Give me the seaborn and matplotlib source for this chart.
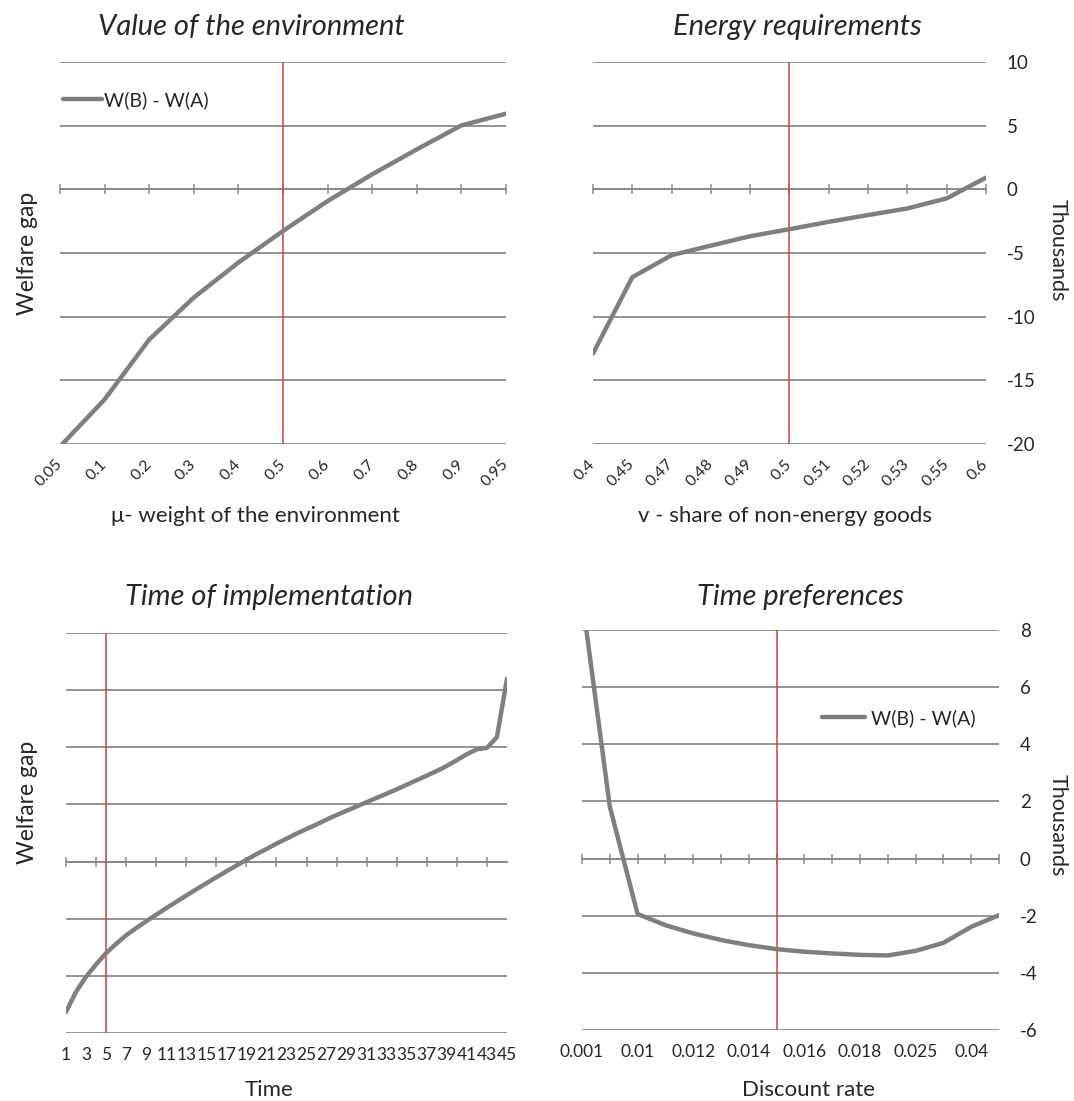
import numpy as np
import matplotlib
matplotlib.use("Agg")
import matplotlib.pyplot as plt
import seaborn as sns

# data (welfare gap, thousands)
mu_labels = ["0.05", "0.1", "0.2", "0.3", "0.4", "0.5", "0.6", "0.7", "0.8", "0.9", "0.95"]
mu_gap = [-20.2, -16.5, -11.8, -8.5, -5.75, -3.27, -0.92, 1.18, 3.14, 5.02, 5.94]
mu_base = 5

v_labels = ["0.4", "0.45", "0.47", "0.48", "0.49", "0.5", "0.51", "0.52", "0.53", "0.55", "0.6"]
v_gap = [-12.9, -6.9, -5.17, -4.42, -3.68, -3.13, -2.55, -2.02, -1.5, -0.71, 0.92]
v_base = 5

time_labels = [str(t) for t in range(1, 46, 2)]
time_gap = [-5.26, -4.56, -4.03, -3.6, -3.2, -2.88, -2.58, -2.33, -2.09, -1.86,
            -1.63, -1.41, -1.19, -0.97, -0.76, -0.55, -0.34, -0.14, 0.06, 0.26,
            0.44, 0.63, 0.80, 0.98, 1.14, 1.30, 1.47, 1.63, 1.78, 1.93,
            2.08, 2.23, 2.38, 2.53, 2.69, 2.85, 3.01, 3.17, 3.35, 3.55,
            3.76, 3.93, 3.98, 4.36, 6.40]
time_base = 4

dr_labels = ["0.001", "0.01", "0.012", "0.014", "0.016", "0.018", "0.025", "0.04"]
dr_gap = [9.15, 1.82, -1.94, -2.33, -2.62, -2.85, -3.03, -3.17,
          -3.26, -3.32, -3.37, -3.39, -3.23, -2.95, -2.39, -1.98]
dr_base = 7

sns.set_style("white")
plt.rcParams["font.family"] = ["Lato", "DejaVu Sans"]
plt.rcParams["axes.unicode_minus"] = False

LINE = "#7f7f7f"
GRID = "#8a8a8a"
RED = "#C8423F"
W, H = 1074, 1101

fig = plt.figure(figsize=(W / 100, H / 100), dpi=100)


def rect(x0, y0, x1, y1):
    return [x0 / W, 1 - y1 / H, (x1 - x0) / W, (y1 - y0) / H]


def panel(box, values, labels, label_every, base, ylim, ystep, mark_every,
          rot=0, legend=None, right=False):
    ax = fig.add_axes(rect(*box))
    pos = np.arange(len(values))
    sns.lineplot(x=pos, y=values, ax=ax, color=LINE, linewidth=3.2,
                 label=legend, legend=False, zorder=3)
    ax.axvline(base, color=RED, linewidth=1.1, zorder=2)
    ax.set_xlim(0, len(values) - 1)
    ax.set_ylim(*ylim)
    ax.set_yticks(np.arange(ylim[0], ylim[1] + ystep, ystep))
    ax.yaxis.grid(True, color=GRID, linewidth=1.3)
    ax.xaxis.grid(False)
    for s in ax.spines.values():
        s.set_visible(False)

    ax.set_xticks(pos[::label_every])
    if rot:
        ax.set_xticklabels(labels, rotation=rot, ha="right", va="center",
                           rotation_mode="anchor")
        ax.tick_params(axis="x", length=0, pad=13, labelsize=11.5)
    else:
        ax.set_xticklabels(labels)
        ax.tick_params(axis="x", length=0, pad=10, labelsize=12.5)

    if right:
        ax.yaxis.tick_right()
        ax.tick_params(axis="y", length=0, pad=15, labelsize=13.5,
                       labelright=True, labelleft=False)
    else:
        ax.tick_params(axis="y", length=0, labelleft=False)

    # category marks along the zero line
    frac = (0 - ylim[0]) / (ylim[1] - ylim[0])
    zero = ax.secondary_xaxis(frac)
    zero.set_xticks(pos[::mark_every])
    zero.tick_params(direction="inout", length=7, width=1.1, color=GRID,
                     labelbottom=False, labeltop=False)
    for s in zero.spines.values():
        s.set_color(GRID)
        s.set_linewidth(1.3)
    return ax


ax1 = panel((60, 62, 506, 444), mu_gap, mu_labels, 1, mu_base, (-20, 10), 5, 1,
            rot=45, legend="W(B) - W(A)")
ax2 = panel((593, 62, 986, 444), v_gap, v_labels, 1, v_base, (-20, 10), 5, 1,
            rot=45, right=True)
ax3 = panel((66, 633, 507, 1033), time_gap, time_labels, 2, time_base, (-6, 8), 2, 3)
ax4 = panel((582, 630, 999, 1030), dr_gap, dr_labels, 2, dr_base, (-6, 8), 2, 1,
            legend="W(B) - W(A)", right=True)

ax1.legend(loc="center left", bbox_to_anchor=(0.007, 0.9), frameon=False,
           borderaxespad=0, borderpad=0, handlelength=2.0, handletextpad=0.1,
           fontsize=14)
ax4.legend(loc="center left", bbox_to_anchor=(0.576, 0.78), frameon=False,
           borderaxespad=0, borderpad=0, handlelength=2.2, handletextpad=0.3,
           fontsize=14)


def ftext(x, y, s, **kw):
    fig.text(x / W, 1 - y / H, s, ha="center", va="center", **kw)


ftext(251, 27, "Value of the environment", fontsize=21, style="italic")
ftext(797, 27, "Energy requirements", fontsize=21, style="italic")
ftext(269, 597, "Time of implementation", fontsize=21, style="italic")
ftext(800, 597, "Time preferences", fontsize=21, style="italic")

ftext(255, 516, "μ- weight of the environment", fontsize=16)
ftext(785, 516, "v - share of non-energy goods", fontsize=16)
ftext(269, 1090, "Time", fontsize=16)
ftext(808, 1090, "Discount rate", fontsize=16)

ftext(27, 253, "Welfare gap", fontsize=16.5, rotation=90)
ftext(27, 802, "Welfare gap", fontsize=16.5, rotation=90)
ftext(1058, 250, "Thousands", fontsize=15.5, rotation=270)
ftext(1058, 825, "Thousands", fontsize=15.5, rotation=270)

fig.savefig("out.png", dpi=100)
